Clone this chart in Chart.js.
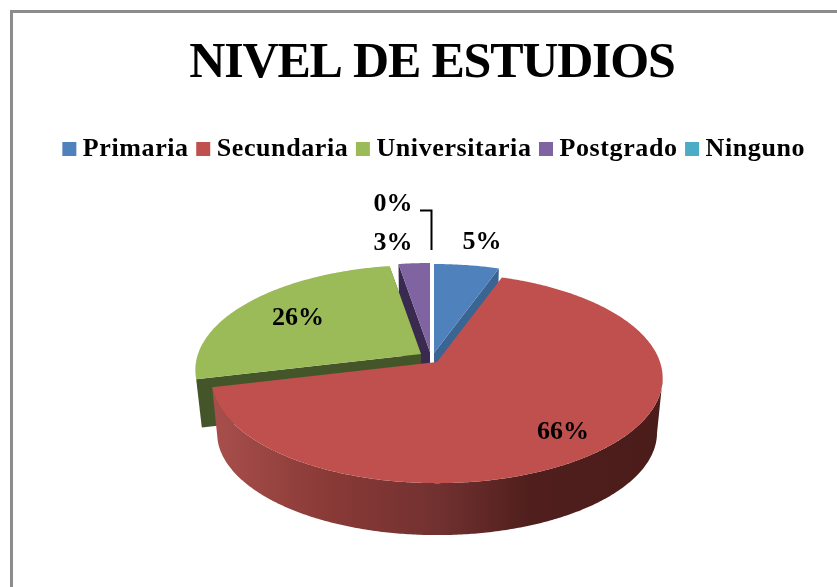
<!DOCTYPE html>
<html><head><meta charset="utf-8">
<script src="https://cdn.jsdelivr.net/npm/chart.js@4"></script>
<style>
html,body{margin:0;padding:0;background:#fff;overflow:hidden}
#frame{position:absolute;left:10px;top:10px;width:900px;height:700px;border:3px solid #8c8c8c;box-sizing:border-box}
canvas{position:absolute;left:0;top:0;filter:blur(.45px)}
</style></head><body>
<div id="frame"></div>
<canvas id="c" width="837" height="587"></canvas>
<script>
const categories = ['Primaria','Secundaria','Universitaria','Postgrado','Ninguno'];
const values = [5.4,65.8,26.2,2.6,0];
const percentLabels = ['5%','66%','26%','3%','0%'];
const titleText = 'NIVEL DE ESTUDIOS';

const topColors = ['#4f81bd','#c0504d','#9bbb59','#8064a2','#4bacc6'];
const sideColors = ['#3a6491','#c0504d','#44552a','#3a2a50','#2f7f95'];
const apexes = [[434,353],[437,362],[421,354],[430,352],[431,350]];
const labelAnchors = [[482,242],[563,432],[298,318],[393,243],[393,204]];
const drawOrder = [3,2,0,1];
const PERSPECTIVE = 0.153, RY = 102.6, DEPTH = 55, LOWER = 0.975;
const LEGEND_SHIFT = 5;
const serif = '"Liberation Serif"';

function project(apex, theta, rx, scale, dy){
  const u = Math.sin(theta), v = Math.cos(theta), s = 1/(1+PERSPECTIVE*v);
  return [apex[0]+rx*u*s*scale, apex[1]-RY*v*s*scale+dy];
}
function rimPath(ctx, apex, a0, a1, rx, scale, dy, moveFirst){
  const n = Math.max(2, Math.ceil(Math.abs(a1-a0)/0.01));
  for(let i=0;i<=n;i++){
    const p = project(apex, a0+(a1-a0)*i/n, rx, scale, dy);
    if(i===0 && moveFirst) ctx.moveTo(p[0],p[1]); else ctx.lineTo(p[0],p[1]);
  }
}
const pie3d = {
  id:'pie3d',
  beforeLayout(chart){ chart.ctx.letterSpacing = '0.6px'; },
  beforeDraw(chart){
    const tb = chart.titleBlock, lg = chart.legend, ctx = chart.ctx;
    if(tb && !tb._wrapped){
      const orig = tb.draw;
      tb.draw = function(){
        const old = ctx.letterSpacing;
        ctx.letterSpacing = '-1.2px';
        orig.call(this);
        ctx.letterSpacing = old;
      };
      tb._wrapped = true;
    }
    if(lg && !lg._wrapped){
      const orig = lg.draw;
      lg.draw = function(){
        ctx.save();
        ctx.translate(LEGEND_SHIFT,0);
        orig.call(this);
        ctx.restore();
      };
      lg._wrapped = true;
    }
  },
  beforeDatasetDraw(chart){
    const ctx = chart.ctx, arcs = chart.getDatasetMeta(0).data;
    ctx.save();
    drawOrder.forEach(i=>{
      const arc = arcs[i], apex = apexes[i], rx = arc.outerRadius;
      const a0 = arc.startAngle+Math.PI/2, a1 = arc.endAngle+Math.PI/2;
      const depth = i===2 ? 49 : DEPTH;
      const low = [apex[0], apex[1]+depth];
      // cut faces
      ctx.fillStyle = sideColors[i];
      [a0,a1].forEach(a=>{
        if(i===1) return;
        const p = project(apex,a,rx,1,0), q = project(apex,a,rx,LOWER,depth);
        ctx.beginPath();ctx.moveTo(apex[0],apex[1]);ctx.lineTo(p[0],p[1]);
        ctx.lineTo(q[0],q[1]);ctx.lineTo(low[0],low[1]);ctx.closePath();ctx.fill();
      });
      // outer wall of the front-facing slice
      if(i===1){
        const g = ctx.createLinearGradient(213,0,664,0);
        g.addColorStop(0,'#a84f4c');g.addColorStop(.25,'#8a3a37');g.addColorStop(.5,'#713130');
        g.addColorStop(.7,'#501f1d');g.addColorStop(1,'#4a1c1a');
        ctx.fillStyle = g;
        const w0 = Math.PI*0.55;
        ctx.beginPath();
        rimPath(ctx,apex,w0,a1,rx,1,0,true);
        rimPath(ctx,apex,a1,w0,rx,LOWER,DEPTH,false);
        ctx.closePath();ctx.fill();
      }
      // top face
      ctx.fillStyle = topColors[i];
      ctx.beginPath();ctx.moveTo(apex[0],apex[1]);
      rimPath(ctx,apex,a0,a1,rx,1,0,false);
      ctx.closePath();ctx.fill();
    });
    // leader line of the empty slice
    ctx.strokeStyle='#000';ctx.lineWidth=2;
    ctx.beginPath();ctx.moveTo(420,210.5);ctx.lineTo(431.5,210.5);ctx.lineTo(431.5,250);ctx.stroke();
    // percentage labels
    ctx.letterSpacing='0px';
    ctx.fillStyle='#000';ctx.font='bold 26px '+serif;ctx.textAlign='center';ctx.textBaseline='middle';
    percentLabels.forEach((t,i)=>ctx.fillText(t,labelAnchors[i][0],labelAnchors[i][1]));
    ctx.restore();
    return false;
  }
};
new Chart(document.getElementById('c'),{
  type:'pie',
  data:{labels:categories,datasets:[{data:values,backgroundColor:topColors,borderWidth:0}]},
  plugins:[pie3d],
  options:{
    responsive:false,animation:false,
    radius:223,
    layout:{padding:{left:27,top:34}},
    plugins:{
      tooltip:{enabled:false},
      title:{display:true,text:titleText,color:'#000',font:{family:serif,size:50,weight:'bold'},padding:{top:0,bottom:28}},
      legend:{position:'top',labels:{
        color:'#000',font:{family:serif,size:26,weight:'bold'},boxWidth:1,boxHeight:1,padding:14,
        generateLabels:()=>categories.map((c,i)=>({text:c,fillStyle:topColors[i],strokeStyle:topColors[i],lineWidth:13,fontColor:'#000',index:i,hidden:false}))
      }}
    }
  }
});
</script></body></html>
